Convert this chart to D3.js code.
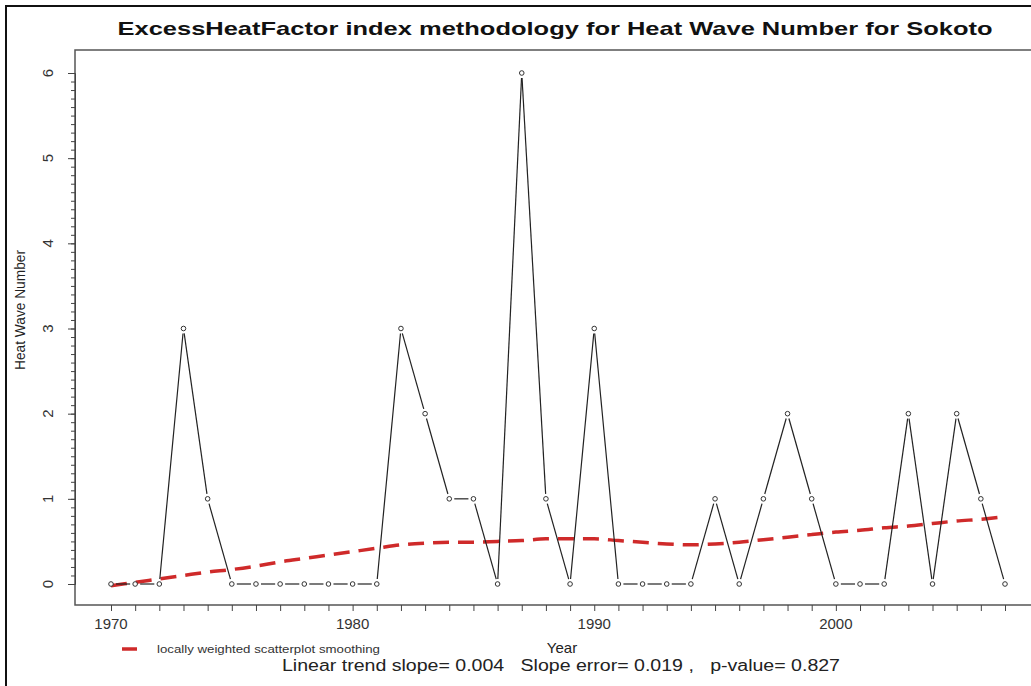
<!DOCTYPE html>
<html>
<head>
<meta charset="utf-8">
<script src="https://cdn.jsdelivr.net/npm/d3@7"></script>
<style>
  body { margin: 0; background: #fff; }
  svg { display: block; }
</style>
</head>
<body>
<div id="vis"></div>
<script>
// data
let years = [1970, 1971, 1972, 1973, 1974, 1975, 1976, 1977, 1978, 1979,
  1980, 1981, 1982, 1983, 1984, 1985, 1986, 1987, 1988, 1989,
  1990, 1991, 1992, 1993, 1994, 1995, 1996, 1997, 1998, 1999,
  2000, 2001, 2002, 2003, 2004, 2005, 2006, 2007];
let heatWaves = [0, 0, 0, 3, 1, 0, 0, 0, 0, 0,
  0, 0, 3, 2, 1, 1, 0, 6, 1, 0,
  3, 0, 0, 0, 0, 1, 0, 1, 2, 1,
  0, 0, 0, 2, 0, 2, 1, 0];
let loess = [-0.02, 0.02, 0.06, 0.10, 0.14, 0.17, 0.21, 0.26, 0.30, 0.34,
  0.38, 0.42, 0.46, 0.48, 0.49, 0.49, 0.50, 0.51, 0.53, 0.53,
  0.53, 0.51, 0.49, 0.47, 0.46, 0.47, 0.49, 0.52, 0.55, 0.58,
  0.61, 0.63, 0.66, 0.68, 0.71, 0.74, 0.76, 0.79];
let yTicks = [0, 1, 2, 3, 4, 5, 6];
let xTickLabels = [1970, 1980, 1990, 2000];

let width = 1031,
  height = 686;

let svg = d3
  .select('#vis')
  .append('svg')
  .attr('width', width)
  .attr('height', height)
  .style('font-family', 'Liberation Sans, Arial, sans-serif');

// outer frame (only left and top show in the crop)
svg
  .append('rect')
  .attr('x', 6)
  .attr('y', 6)
  .attr('width', width + 20)
  .attr('height', height + 20)
  .attr('fill', 'none')
  .attr('stroke', '#111')
  .attr('stroke-width', 2);

const xScale = d3.scaleLinear().domain([1970, 2007]).range([111, 1005]);
const yScale = d3.scaleLinear().domain([0, 6]).range([584, 73]);

const boxLeft = 75,
  boxTop = 50,
  boxBottom = 605;

// plot box
svg
  .append('rect')
  .attr('x', boxLeft)
  .attr('y', boxTop)
  .attr('width', width)
  .attr('height', boxBottom - boxTop)
  .attr('fill', 'none')
  .attr('stroke', '#555')
  .attr('stroke-width', 1.5);

// y axis, major ticks at integers and minor ticks every 0.1
const yAxis = svg.append('g').attr('transform', `translate(${boxLeft}, 0)`);
yAxis
  .append('g')
  .call(d3.axisLeft(yScale).tickValues(d3.range(0, 6.01, 0.1)).tickSize(4).tickFormat(''))
  .call((g) => g.select('.domain').remove())
  .selectAll('line')
  .attr('stroke', '#444');
yAxis
  .append('g')
  .call(d3.axisLeft(yScale).tickValues(yTicks).tickSize(7).tickFormat(''))
  .call((g) => g.select('.domain').attr('stroke', '#444'))
  .selectAll('line')
  .attr('stroke', '#444');

svg
  .append('g')
  .selectAll('text')
  .data(yTicks)
  .enter()
  .append('text')
  .attr('transform', (d) => `translate(53, ${yScale(d)}) rotate(-90)`)
  .attr('text-anchor', 'middle')
  .attr('font-size', 15)
  .attr('fill', '#333')
  .text((d) => d);

// x axis, a tick every year
svg
  .append('g')
  .attr('transform', `translate(0, ${boxBottom})`)
  .call(d3.axisBottom(xScale).tickValues(years).tickSize(6).tickFormat(''))
  .call((g) => g.select('.domain').remove())
  .selectAll('line')
  .attr('stroke', '#444');

svg
  .append('g')
  .selectAll('text')
  .data(xTickLabels)
  .enter()
  .append('text')
  .attr('x', (d) => xScale(d))
  .attr('y', 629)
  .attr('text-anchor', 'middle')
  .attr('font-size', 15)
  .attr('fill', '#333')
  .text((d) => d);

// loess smoothing curve
const pts = years.map((yr, i) => ({ year: yr, value: heatWaves[i], smooth: loess[i] }));

svg
  .append('path')
  .datum(pts)
  .attr('fill', 'none')
  .attr('stroke', '#cf2a2a')
  .attr('stroke-width', 3.5)
  .attr('stroke-dasharray', '16,9')
  .attr(
    'd',
    d3
      .line()
      .x((d) => xScale(d.year))
      .y((d) => yScale(d.smooth))
      .curve(d3.curveMonotoneX)
  );

// type "b" line: segments with a gap around each point
const gap = 5;
const segs = pts.slice(1).map((d, i) => {
  const a = pts[i];
  const x1 = xScale(a.year), y1 = yScale(a.value);
  const x2 = xScale(d.year), y2 = yScale(d.value);
  const len = Math.hypot(x2 - x1, y2 - y1);
  const ux = (x2 - x1) / len, uy = (y2 - y1) / len;
  return { x1: x1 + ux * gap, y1: y1 + uy * gap, x2: x2 - ux * gap, y2: y2 - uy * gap };
});

svg
  .append('g')
  .selectAll('line')
  .data(segs)
  .enter()
  .append('line')
  .attr('x1', (s) => s.x1)
  .attr('y1', (s) => s.y1)
  .attr('x2', (s) => s.x2)
  .attr('y2', (s) => s.y2)
  .attr('stroke', '#222')
  .attr('stroke-width', 1.2);

svg
  .append('g')
  .selectAll('circle')
  .data(pts)
  .enter()
  .append('circle')
  .attr('cx', (d) => xScale(d.year))
  .attr('cy', (d) => yScale(d.value))
  .attr('r', 2.3)
  .attr('fill', 'white')
  .attr('stroke', '#333')
  .attr('stroke-width', 1);

// title
svg
  .append('text')
  .attr('x', 555)
  .attr('y', 35)
  .attr('text-anchor', 'middle')
  .attr('font-size', 19)
  .attr('font-weight', 'bold')
  .attr('fill', '#111')
  .attr('textLength', 875)
  .attr('lengthAdjust', 'spacingAndGlyphs')
  .text('ExcessHeatFactor index methodology for Heat Wave Number for Sokoto');

// y label
svg
  .append('text')
  .attr('transform', 'translate(25, 310) rotate(-90)')
  .attr('text-anchor', 'middle')
  .attr('font-size', 14)
  .attr('fill', '#222')
  .attr('textLength', 120)
  .attr('lengthAdjust', 'spacingAndGlyphs')
  .text('Heat Wave Number');

// legend
svg
  .append('line')
  .attr('x1', 122)
  .attr('x2', 137)
  .attr('y1', 649)
  .attr('y2', 649)
  .attr('stroke', '#cf2a2a')
  .attr('stroke-width', 3.5);

svg
  .append('text')
  .attr('x', 157)
  .attr('y', 653)
  .attr('font-size', 10)
  .attr('fill', '#333')
  .attr('textLength', 223)
  .attr('lengthAdjust', 'spacingAndGlyphs')
  .text('locally weighted scatterplot smoothing');

// x label and trend stats
svg
  .append('text')
  .attr('x', 562)
  .attr('y', 653)
  .attr('text-anchor', 'middle')
  .attr('font-size', 15)
  .attr('fill', '#222')
  .text('Year');

svg
  .append('text')
  .attr('x', 282)
  .attr('y', 671)
  .attr('font-size', 16)
  .attr('fill', '#222')
  .attr('textLength', 558)
  .attr('lengthAdjust', 'spacingAndGlyphs')
  .attr('xml:space', 'preserve')
  .style('white-space', 'pre')
  .text('Linear trend slope= 0.004   Slope error= 0.019 ,   p-value= 0.827');
</script>
</body>
</html>
